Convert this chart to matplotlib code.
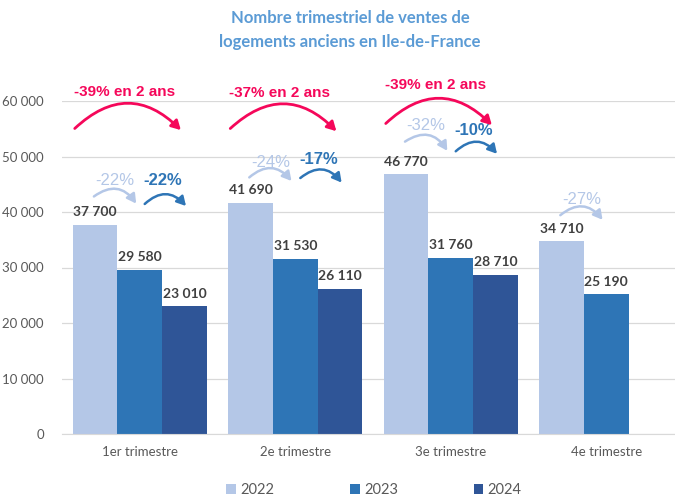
import numpy as np
import matplotlib
matplotlib.use("Agg")
import matplotlib.pyplot as plt
from matplotlib.patches import FancyArrowPatch

# data
trimestres = ["1er trimestre", "2e trimestre", "3e trimestre", "4e trimestre"]
annees = ["2022", "2023", "2024"]
ventes_2022 = [37700, 41690, 46770, 34710]
ventes_2023 = [29580, 31530, 31760, 25190]
ventes_2024 = [23010, 26110, 28710, None]

evol_2ans = ["-39% en 2 ans", "-37% en 2 ans", "-39% en 2 ans"]
evol_22_23 = ["-22%", "-24%", "-32%", "-27%"]
evol_23_24 = ["-22%", "-17%", "-10%"]

couleurs = ["#B4C7E7", "#2E75B6", "#2F5597"]
rouge = "#F5075A"
gris = "#595959"

W, H = 675, 497
fig = plt.figure(figsize=(W / 100, H / 100), dpi=100)
ax = fig.add_axes([62 / W, (H - 434) / H, (684 - 62) / W, 333 / H])

x = np.arange(len(trimestres))
bw = 0.287
series = [ventes_2022, ventes_2023, ventes_2024]
for k, (vals, c, lab) in enumerate(zip(series, couleurs, annees)):
    xs = [xi + (k - 1) * bw for xi, v in zip(x, vals) if v is not None]
    vs = [v for v in vals if v is not None]
    ax.bar(xs, vs, width=bw, color=c, label=lab, zorder=2)
    for xi, v in zip(xs, vs):
        ax.text(xi, v + 1200, f"{v:,}".replace(",", " "), ha="center", va="bottom",
                fontsize=10, fontweight="bold", color="#404040", family="Lato")

ax.set_xlim(-0.5, 3.5)
ax.set_ylim(0, 60000)
ax.set_yticks(np.arange(0, 60001, 10000))
ax.set_yticklabels([f"{int(v):,}".replace(",", " ") for v in np.arange(0, 60001, 10000)],
                   family="Lato", fontsize=9.5, color=gris)
ax.set_xticks(x)
ax.set_xticklabels(trimestres, family="Lato", fontsize=9.5, color=gris)
ax.tick_params(axis="y", length=0, pad=13)
ax.tick_params(axis="x", length=0, pad=9)
ax.grid(axis="y", color="#D9D9D9", lw=0.9, zorder=0)
for s in ["left", "right", "top"]:
    ax.spines[s].set_visible(False)
ax.spines["bottom"].set_color("#D9D9D9")


def fleche(x0, y0, x1, y1, color, lw, rad):
    p = FancyArrowPatch((x0, y0), (x1, y1), connectionstyle=f"arc3,rad={rad}",
                        arrowstyle="-|>,head_length=0.45,head_width=0.25",
                        mutation_scale=12, color=color, lw=lw, clip_on=False, zorder=5)
    ax.add_patch(p)


# big arrows (2022 -> 2024)
big_y = [54700, 54700, 55600]
big_dy = [300, 500, 300]
big_ty = [61600, 61400, 62900]
for i, lab in enumerate(evol_2ans):
    fleche(i - 0.431, big_y[i], i + 0.277, big_y[i] - big_dy[i], rouge, 2.0, -0.5)
    ax.text(i - 0.1, big_ty[i], lab, ha="center", va="center", fontsize=11,
            fontweight="bold", color=rouge, family="Liberation Sans")

# small arrows 2022 -> 2023
s1_y = [42500, 45900, 52400, 39100]
s1_dy = [1400, 700, 1800, 900]
for i, lab in enumerate(evol_22_23):
    fleche(i - 0.309, s1_y[i], i - 0.013, s1_y[i] - s1_dy[i], couleurs[0], 1.8, -0.55)
    ax.text(i - 0.16, s1_y[i] + 3100, lab, ha="center", va="center", fontsize=12,
            color=couleurs[0], family="Liberation Sans")

# small arrows 2023 -> 2024
s2_y = [41100, 45800, 50600]
s2_dy = [400, 900, 500]
s2_ty = [45600, 49400, 54600]
for i, lab in enumerate(evol_23_24):
    fleche(i + 0.019, s2_y[i], i + 0.309, s2_y[i] - s2_dy[i], couleurs[1], 1.8, -0.55)
    ax.text(i + 0.15, s2_ty[i], lab, ha="center", va="center", fontsize=12,
            fontweight="bold", color=couleurs[1], family="Liberation Sans")

fig.text(350 / W, 1 - 30 / H, "Nombre trimestriel de ventes de\nlogements anciens en Ile-de-France",
         ha="center", va="center", fontsize=12, fontweight="bold", color="#5B9BD5",
         family="Lato", linespacing=1.55)

leg = fig.legend(loc="center", bbox_to_anchor=(374 / W, 1 - 490 / H), ncol=3, frameon=False,
                 handlelength=0.65, handleheight=0.65, handletextpad=0.3, columnspacing=5.2,
                 prop={"family": "Lato", "size": 10.5})
for t in leg.get_texts():
    t.set_color(gris)

fig.savefig("out.png", dpi=100)
